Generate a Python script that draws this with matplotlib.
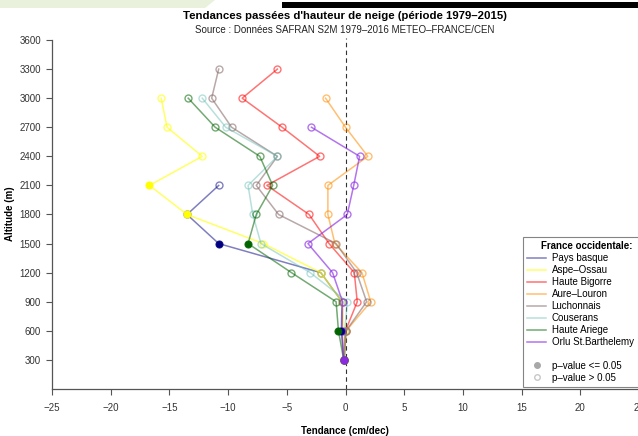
import matplotlib
matplotlib.use("Agg")
import matplotlib.pyplot as plt
from matplotlib.lines import Line2D
from matplotlib.patches import Rectangle, Polygon

plt.rcParams["font.family"] = ["Liberation Sans", "DejaVu Sans"]

# altitude levels (m), from 300 m upwards
altitudes = [300, 600, 900, 1200, 1500, 1800, 2100, 2400, 2700, 3000, 3300]

# snow depth trends (cm/decade), one value per altitude level from 300 m
pays_basque = [-0.15, -0.35, -0.3, -2.1, -10.8, -13.5, -10.8]
aspe_ossau = [-0.15, -0.1, -0.3, -2.1, -7.0, -13.5, -16.7, -12.2, -15.2, -15.7]
haute_bigorre = [-0.15, 0.0, 1.0, 0.75, -1.4, -3.1, -6.7, -2.2, -5.4, -8.8, -5.8]
aure_louron = [-0.1, 0.05, 2.15, 1.4, -0.9, -1.5, -1.5, 1.9, 0.0, -1.7]
luchonnais = [-0.1, 0.05, 1.8, 0.95, -0.8, -5.7, -7.6, -5.8, -9.7, -11.4, -10.8]
couserans = [-0.1, -0.05, 0.15, -3.0, -7.2, -7.9, -8.3, -5.8, -10.2, -12.2]
haute_ariege = [-0.15, -0.6, -0.8, -4.6, -8.3, -7.6, -6.2, -7.3, -11.1, -13.4]
orlu = [-0.15, -0.3, -0.25, -1.1, -3.2, 0.15, 0.7, 1.2, -2.9]

# altitudes where p-value <= 0.05
pays_basque_sig = [600, 1500]
aspe_ossau_sig = [1800, 2100]
haute_bigorre_sig = []
aure_louron_sig = []
luchonnais_sig = []
couserans_sig = []
haute_ariege_sig = [600, 1500]
orlu_sig = [300]

massifs = ["Pays basque", "Aspe–Ossau", "Haute Bigorre", "Aure–Louron",
           "Luchonnais", "Couserans", "Haute Ariege", "Orlu St.Barthelemy"]
trends = [pays_basque, aspe_ossau, haute_bigorre, aure_louron,
          luchonnais, couserans, haute_ariege, orlu]
significant = [pays_basque_sig, aspe_ossau_sig, haute_bigorre_sig, aure_louron_sig,
               luchonnais_sig, couserans_sig, haute_ariege_sig, orlu_sig]
colors = ["navy", "yellow", "red", "darkorange", "#8b6f6f", "#62bab2",
          "darkgreen", "#8a2be2"]
alphas = [0.5, 0.6, 0.55, 0.55, 0.6, 0.45, 0.55, 0.65]

W, H = 638, 436
fig = plt.figure(figsize=(W / 100, H / 100), dpi=100)

# page decoration strips along the top edge
fig.patches.append(Polygon([[0, 1], [215 / W, 1], [205 / W, 1 - 8 / H], [0, 1 - 8 / H]],
                           closed=True, transform=fig.transFigure,
                           facecolor="#e9f1dc", edgecolor="none"))
fig.patches.append(Rectangle((282 / W, 1 - 8 / H), 1, 6 / H, transform=fig.transFigure,
                             facecolor="black", edgecolor="none"))

ymax = 3620
left, right = 52, 639
bottom, top = 389, 40 - (ymax - 3600) * 29.1 / 300
ax = fig.add_axes([left / W, 1 - bottom / H, (right - left) / W, (bottom - top) / H])

ax.axvline(0, color="#333333", lw=0.8, ls=(0, (4, 3)), zorder=1)

for name, vals, sig, c, a in zip(massifs, trends, significant, colors, alphas):
    alts = altitudes[:len(vals)]
    ax.plot(vals, alts, color=c, alpha=a, lw=1.1, marker="o", ms=5,
            mfc="none", mew=1.0, zorder=2)
    sx = [v for v, h in zip(vals, alts) if h in sig]
    sy = [h for h in alts if h in sig]
    ax.plot(sx, sy, ls="none", marker="o", ms=5, mfc=c, mec=c, mew=0.4, zorder=3)

ax.set_xlim(-25, 25)
ax.set_ylim(0, ymax)
ax.set_xticks(range(-25, 26, 5))
ax.set_yticks(range(300, 3601, 300))

for s in ["top", "right"]:
    ax.spines[s].set_visible(False)
for s in ["left", "bottom"]:
    ax.spines[s].set_color("#555555")
    ax.spines[s].set_linewidth(0.9)
ax.spines["left"].set_bounds(0, 3600)
ax.tick_params(axis="both", length=4, width=0.8, color="#555555",
               labelsize=7, labelcolor="#333333")
ax.tick_params(axis="x", pad=6)
ax.tick_params(axis="y", pad=4)

ax.set_ylabel("Altitude (m)", fontsize=7, fontweight="bold", labelpad=3)
fig.text(345 / W, 1 - 431 / H, "Tendance (cm/dec)", ha="center", va="center",
         fontsize=7, fontweight="bold")

fig.text(345 / W, 1 - 16 / H, "Tendances passées d'hauteur de neige (période 1979–2015)",
         ha="center", va="center", fontsize=8.2, fontweight="bold")
fig.text(345 / W, 1 - 30 / H, "Source : Données SAFRAN S2M 1979–2016 METEO–FRANCE/CEN",
         ha="center", va="center", fontsize=7, color="#222222")

handles = [Line2D([], [], color=c, alpha=a, lw=1.1) for c, a in zip(colors, alphas)]
labels = list(massifs)
handles.append(Line2D([], [], color="none"))
labels.append(" ")
handles.append(Line2D([], [], ls="none", marker="o", ms=4, mfc="#a8a8a8", mec="#a8a8a8"))
labels.append("p–value <= 0.05")
handles.append(Line2D([], [], ls="none", marker="o", ms=4, mfc="none", mec="#c8c8c8"))
labels.append("p–value > 0.05")

leg = fig.legend(handles, labels, title="France occidentale:", loc="upper left",
                 bbox_to_anchor=(523 / W, 0, 0.2, 1 - 237 / H), mode="expand",
                 fontsize=7, title_fontproperties={"weight": "bold", "size": 7},
                 frameon=True, fancybox=False, handlelength=1.9, handletextpad=0.6,
                 labelspacing=0.2, borderpad=0.45, borderaxespad=0)
leg.get_frame().set_edgecolor("#666666")
leg.get_frame().set_linewidth(0.8)

fig.savefig("out.png", dpi=100)
